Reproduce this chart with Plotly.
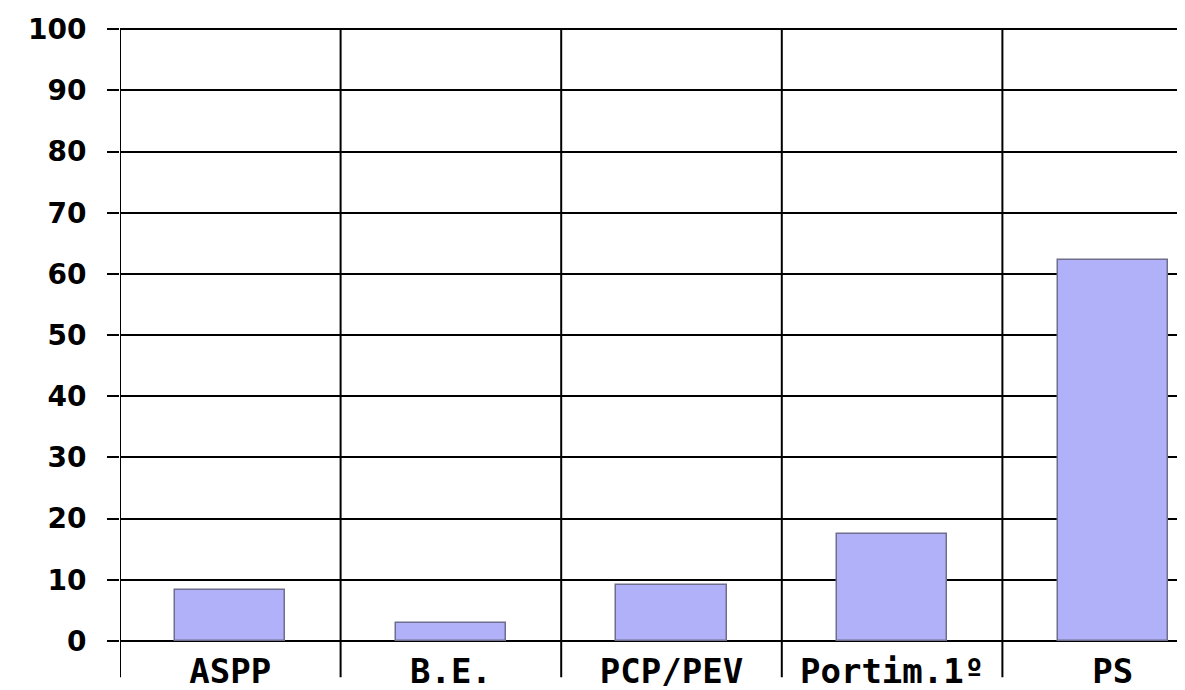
import plotly.graph_objects as go

categories = ["ASPP", "B.E.", "PCP/PEV", "Portim.1º", "PS"]
values = [8.3, 3.0, 9.1, 17.5, 62.2]
y_ticks = list(range(0, 101, 10))

W, H = 1185, 690
L, T, B = 112, 20, 57
cat_px = 220.6

fig = go.Figure()
fig.add_trace(go.Bar(
    x=list(range(len(categories))),
    y=values,
    width=0.5,
    marker=dict(color="#b1b1f9", line=dict(color="#6e6e8c", width=1.5)),
))

# vertical separators (boundaries between categories), extending below the axis
for i in range(len(categories)):
    fig.add_shape(type="line", xref="x", yref="paper",
                  x0=i - 0.5, x1=i - 0.5, y0=-0.059, y1=1.0,
                  line=dict(color="black", width=2), layer="above")

fig.update_layout(
    width=W, height=H,
    margin=dict(l=L, r=0, t=T, b=B),
    paper_bgcolor="white", plot_bgcolor="white",
    showlegend=False,
    bargap=0,
)
fig.update_xaxes(
    range=[-0.5, -0.5 + (W - L) / cat_px],
    tickmode="array",
    tickvals=list(range(len(categories))),
    ticktext=categories,
    showgrid=False, zeroline=False, showline=False,
    automargin=False,
    ticks="", ticklabelstandoff=7,
    tickfont=dict(family="DejaVu Sans Mono", size=34, color="black", weight="bold"),
)
fig.update_yaxes(
    range=[0, 100.2],
    tickmode="array", tickvals=y_ticks,
    showgrid=True, gridcolor="black", gridwidth=2,
    zeroline=True, zerolinecolor="black", zerolinewidth=2,
    ticks="outside", ticklen=12, tickwidth=2, tickcolor="black",
    ticklabelstandoff=15,
    tickfont=dict(family="DejaVu Sans", size=28, color="black", weight="bold"),
)

fig.write_html("out.html")
